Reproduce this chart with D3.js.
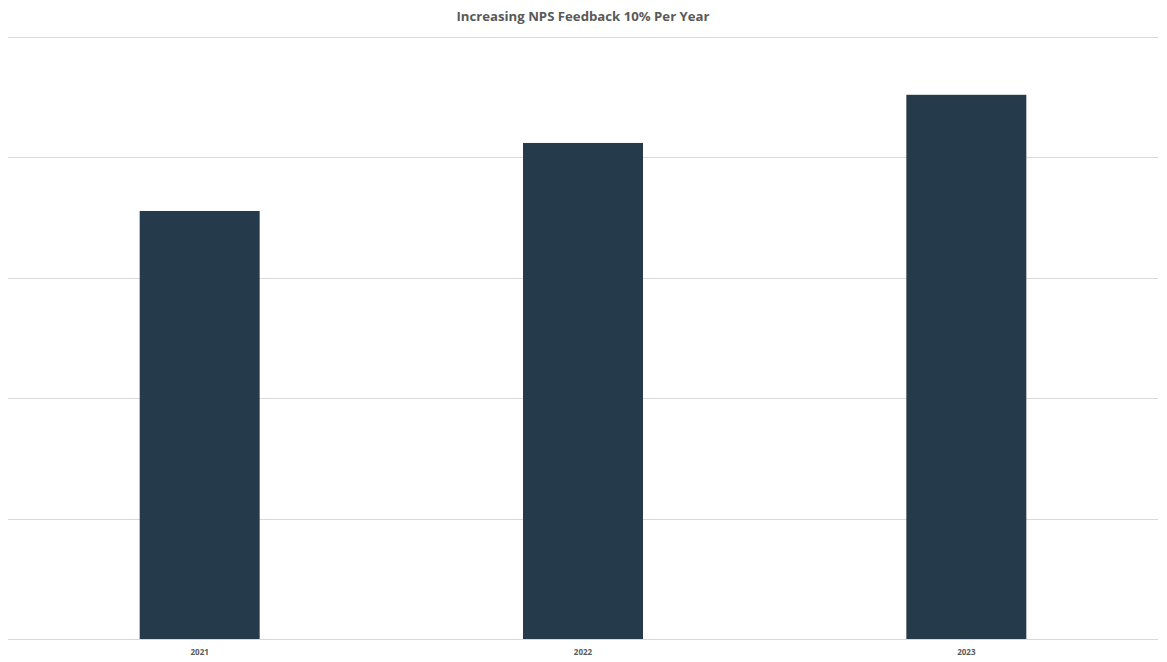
<!DOCTYPE html>
<html>
<head>
<meta charset="utf-8">
<script src="https://cdn.jsdelivr.net/npm/d3@7"></script>
<style>
    body { margin: 0; background: #fff; }
    #chart { width: 1167px; height: 662px; }
</style>
</head>
<body>
<div id="chart"></div>
<script>
    const years = ["2021", "2022", "2023"];
    const nps = [71.1, 82.4, 90.4];
    const yTicks = [0, 20, 40, 60, 80, 100];

    const width = 1167;
    const height = 662;
    const margin = { top: 37, right: 9, bottom: 23, left: 8 };

    const svg = d3
        .select("#chart")
        .append("svg")
        .attr("width", width)
        .attr("height", height);

    const x = d3
        .scaleBand()
        .domain(years)
        .range([margin.left, width - margin.right])
        .paddingInner(0.687)
        .paddingOuter(0.3435);

    const y = d3
        .scaleLinear()
        .domain([0, 100])
        .range([height - margin.bottom, margin.top]);

    // gridlines
    svg.append("g")
        .selectAll("line")
        .data(yTicks)
        .enter()
        .append("line")
        .attr("x1", margin.left)
        .attr("x2", width - margin.right)
        .attr("y1", (d) => Math.round(y(d)) + 0.5)
        .attr("y2", (d) => Math.round(y(d)) + 0.5)
        .attr("stroke", "#d9d9d9")
        .attr("stroke-width", 1);

    // bars
    svg.append("g")
        .selectAll("rect")
        .data(years)
        .enter()
        .append("rect")
        .attr("x", (d) => x(d))
        .attr("y", (d, i) => y(nps[i]))
        .attr("width", x.bandwidth())
        .attr("height", (d, i) => y(0) - y(nps[i]))
        .attr("fill", "#253a4b");

    // x axis labels
    const xAxis = d3.axisBottom(x).tickSize(0).tickPadding(10);
    svg.append("g")
        .attr("transform", `translate(0, ${y(0)})`)
        .call(xAxis)
        .call((g) => g.select(".domain").remove())
        .selectAll("text")
        .attr("font-family", "'Open Sans', sans-serif")
        .attr("font-size", "8px")
        .attr("font-weight", "bold")
        .attr("fill", "#595959");

    svg.append("text")
        .attr("x", 583)
        .attr("y", 21)
        .attr("text-anchor", "middle")
        .attr("font-family", "'Open Sans', sans-serif")
        .attr("font-size", "13.2px")
        .attr("font-weight", "bold")
        .attr("fill", "#595959")
        .text("Increasing NPS Feedback 10% Per Year");
</script>
</body>
</html>
